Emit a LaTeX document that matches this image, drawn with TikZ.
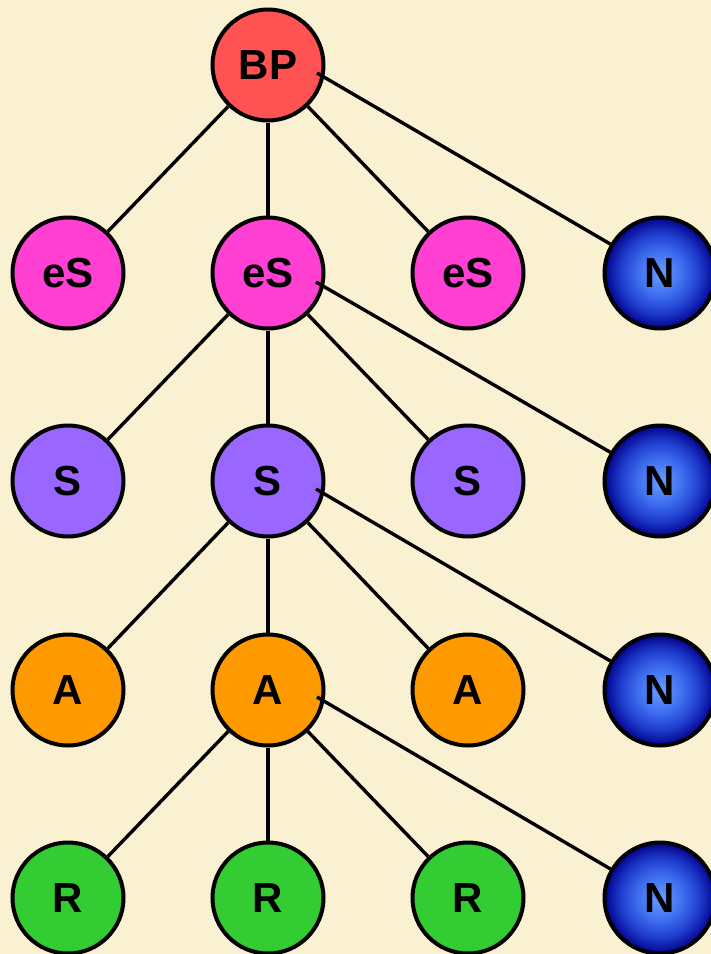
\documentclass[tikz,border=0pt]{standalone}
\usepackage{fontspec}
\setmainfont{Liberation Sans}

\definecolor{parchment}{HTML}{FAF0D2}
\definecolor{bpred}{HTML}{FF5252}
\definecolor{esmag}{HTML}{FF40D2}
\definecolor{sviolet}{HTML}{9966FF}
\definecolor{aorange}{HTML}{FF9900}
\definecolor{rgreen}{HTML}{33CC33}
\definecolor{nhi}{HTML}{6A9CFF}
\definecolor{nmid}{HTML}{3F6FF0}
\definecolor{ndeep}{HTML}{1E3CCC}
\definecolor{nlo}{HTML}{02028C}

\pgfdeclareradialshading{nball}{\pgfpoint{0bp}{0bp}}{%
  color(0bp)=(nhi); color(10bp)=(nmid); color(18bp)=(ndeep);
  color(25bp)=(nlo); color(50bp)=(nlo)}

\tikzset{
  ball/.style={circle, draw=black, line width=4pt, minimum size=111pt,
    inner sep=0pt, font=\fontsize{42}{42}\selectfont\bfseries},
  bp/.style={ball, fill=bpred},
  es/.style={ball, fill=esmag},
  sv/.style={ball, fill=sviolet},
  ao/.style={ball, fill=aorange},
  rg/.style={ball, fill=rgreen},
  nb/.style={ball, shading=nball},
  link/.style={line width=3.4pt, black}
}

\begin{document}
\begin{tikzpicture}[x=1pt,y=-1pt]
    \useasboundingbox (0,0) rectangle (711,954);
    \fill[parchment] (0,0) rectangle (711,954);

    % top
    \node[bp] (BP) at (268,65) {BP};

    % second row
    \node[es] (eSa) at (68,273) {eS};
    \node[es] (eSb) at (268,273) {eS};
    \node[es] (eSc) at (468,273) {eS};
    \node[nb] (Na) at (660,273) {N};

    % third row
    \node[sv] (Sa) at (68,481) {S};
    \node[sv] (Sb) at (268,481) {S};
    \node[sv] (Sc) at (468,481) {S};
    \node[nb] (Nb) at (660,481) {N};

    % fourth row
    \node[ao] (Aa) at (68,690) {A};
    \node[ao] (Ab) at (268,690) {A};
    \node[ao] (Ac) at (468,690) {A};
    \node[nb] (Nc) at (660,690) {N};

    % bottom row
    \node[rg] (Ra) at (68,898) {R};
    \node[rg] (Rb) at (268,898) {R};
    \node[rg] (Rc) at (468,898) {R};
    \node[nb] (Nd) at (660,898) {N};

    % the N links start inside the parent
    \coordinate (BPr) at ([shift={(49,8)}]BP.center);
    \coordinate (eSr) at ([shift={(48,9)}]eSb.center);
    \coordinate (Sr) at ([shift={(48,8)}]Sb.center);
    \coordinate (Ar) at ([shift={(49,7)}]Ab.center);

    \draw[link] (BP) -- (eSa);
    \draw[link] (BP) -- (eSb);
    \draw[link] (BP) -- (eSc);
    \draw[link] (BPr) -- (Na);

    \draw[link] (eSb) -- (Sa);
    \draw[link] (eSb) -- (Sb);
    \draw[link] (eSb) -- (Sc);
    \draw[link] (eSr) -- (Nb);

    \draw[link] (Sb) -- (Aa);
    \draw[link] (Sb) -- (Ab);
    \draw[link] (Sb) -- (Ac);
    \draw[link] (Sr) -- (Nc);

    \draw[link] (Ab) -- (Ra);
    \draw[link] (Ab) -- (Rb);
    \draw[link] (Ab) -- (Rc);
    \draw[link] (Ar) -- (Nd);
\end{tikzpicture}
\end{document}
